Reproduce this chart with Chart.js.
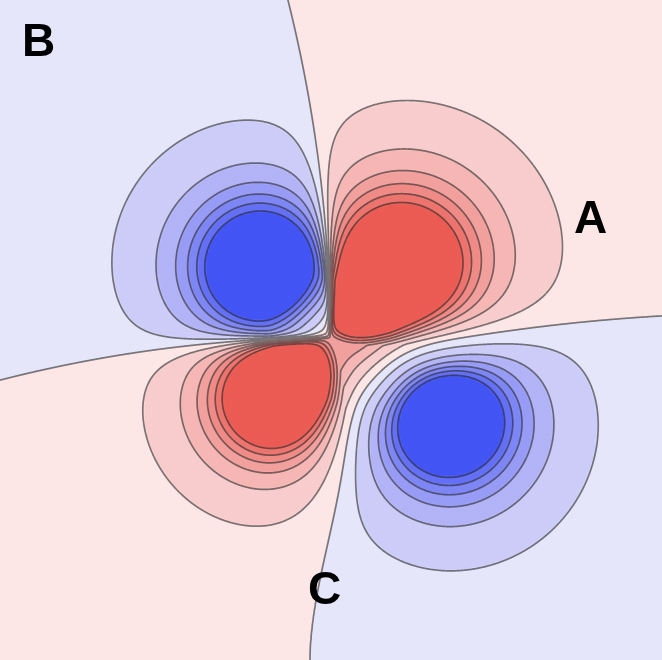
<!DOCTYPE html>
<html>
<head>
<meta charset="utf-8">
<script src="https://cdn.jsdelivr.net/npm/chart.js@4.4.1/dist/chart.umd.min.js"></script>
<style>
  html, body { margin: 0; padding: 0; background: #fff; }
  #wrap { position: relative; width: 662px; height: 660px; overflow: hidden; }
  #orbital { display: block; }
  .tag { position: absolute; font: bold 46px "Liberation Sans", Arial, sans-serif; line-height: 46px; color: #000; }
</style>
</head>
<body>
<div id="wrap">
  <canvas id="orbital" width="662" height="660"></canvas>
  <div class="tag" style="left:574px; top:194px;">A</div>
  <div class="tag" style="left:22px; top:17px;">B</div>
  <div class="tag" style="left:308px; top:565px;">C</div>
</div>
<script>
// contour levels (blue < 0 < red)
const levels = [-8.2, -7.2, -6.2, -5.1, -3.7, -1.8, 0, 1.8, 3.7, 5.1, 6.2, 7.2, 8.2];
// fill colour of each band, most negative first
const bandColors = [
  [68, 85, 245], [100, 112, 245], [126, 134, 245], [152, 156, 246], [179, 180, 247], [205, 205, 248], [230, 230, 250],
  [252, 230, 230], [248, 205, 205], [245, 182, 181], [242, 160, 157], [240, 139, 134], [237, 116, 110], [235, 92, 85]
];

// four lobes: upper left, upper right, lower left, lower right
const lobeX = [262, 400, 275, 447];
const lobeY = [268, 267, 397, 419];
const lobeAmp = [20.9, 21.6, 22.5, 22.5];
const lobeDecay = [62, 68, 54, 61];
// how sharply each lobe is cut at the vertical (u) and horizontal (v) node lines
const lobeWu = [3, 3, 18, 22];
const lobeGu = [0.12, 0.12, 0.15, 0.05];
const lobeWv = [4, 14, 4, 30];
const lobeGv = [0.12, 0.1, 0.12, 0];

// node lines crossing near the middle
const nodeCenter = [330, 338];
const nodeUp = -0.000368;                          // upper line: x shift per v^2
const nodeDown = [0.41547, -0.0031136, 5.064e-6];  // lower line: x shift polynomial
const nodeLeft = 0.000386;                         // left line: y shift per u^2
const nodeRight = [0.56, 90, -30, 150];            // right line: bump and drift

// positive link across the middle
const linkCenter = [346, 350];
const linkAmp = 6;
const linkWidth = 38;

const W = 662, H = 660;

function soft(t, w) { return t / Math.sqrt(t * t + w * w); }

function field(x, y) {
  const u0 = x - nodeCenter[0], v0 = y - nodeCenter[1];
  const sx = v0 < 0 ? nodeUp * v0 * v0
                    : nodeDown[0] * v0 + nodeDown[1] * v0 * v0 + nodeDown[2] * v0 * v0 * v0;
  const sy = u0 < 0 ? nodeLeft * u0 * u0
                    : nodeRight[0] * u0 * Math.exp(-u0 / nodeRight[1]) + nodeRight[2] * (1 - Math.exp(-u0 / nodeRight[3]));
  const u = u0 - sx, v = v0 - sy;
  const q = (u < 0 ? 0 : 1) + (v < 0 ? 0 : 2);
  const wu = lobeWu[q] + lobeGu[q] * Math.max(0, Math.abs(v) - 60);
  const wv = lobeWv[q] + lobeGv[q] * Math.max(0, Math.abs(u) - 60);
  const blob = lobeAmp[q] * Math.exp(-Math.hypot(x - lobeX[q], y - lobeY[q]) / lobeDecay[q]);
  let f = -soft(u, wu) * soft(v, wv) * blob;
  const dl = Math.hypot(x - linkCenter[0], y - linkCenter[1]) / linkWidth;
  f += linkAmp * Math.exp(-0.5 * dl * dl);
  return f;
}

function band(f) {
  let k = 0;
  while (k < levels.length && f > levels[k]) k++;
  return k;
}

// filled bands: 2px cells, 4 samples each for soft edges
const cellGroups = new Map();
const cell = 2;
for (let y = 0; y < H; y += cell) {
  for (let x = 0; x < W; x += cell) {
    let r = 0, g = 0, b = 0;
    for (const [ox, oy] of [[0.5, 0.5], [1.5, 0.5], [0.5, 1.5], [1.5, 1.5]]) {
      const c = bandColors[band(field(x + ox, y + oy))];
      r += c[0]; g += c[1]; b += c[2];
    }
    const key = `rgb(${Math.round(r / 4)},${Math.round(g / 4)},${Math.round(b / 4)})`;
    if (!cellGroups.has(key)) cellGroups.set(key, []);
    cellGroups.get(key).push({ x: x + cell / 2, y: y + cell / 2 });
  }
}

// contour lines by marching squares on a 1px grid
const nx = W + 1, ny = H + 1;
const grid = new Float64Array(nx * ny);
for (let j = 0; j < ny; j++) for (let i = 0; i < nx; i++) grid[j * nx + i] = field(i, j);

const linePoints = [];
for (const L of levels) {
  for (let j = 0; j < ny - 1; j++) {
    for (let i = 0; i < nx - 1; i++) {
      const a = grid[j * nx + i], b = grid[j * nx + i + 1];
      const c = grid[(j + 1) * nx + i + 1], d = grid[(j + 1) * nx + i];
      const ia = a > L, ib = b > L, ic = c > L, id = d > L;
      if (ia === ib && ib === ic && ic === id) continue;
      const e = [null, null, null, null];
      if (ia !== ib) e[0] = { x: i + (L - a) / (b - a), y: j };
      if (ib !== ic) e[1] = { x: i + 1, y: j + (L - b) / (c - b) };
      if (id !== ic) e[2] = { x: i + (L - d) / (c - d), y: j + 1 };
      if (ia !== id) e[3] = { x: i, y: j + (L - a) / (d - a) };
      const hit = [0, 1, 2, 3].filter(k => e[k]);
      let pairs;
      if (hit.length === 2) pairs = [[hit[0], hit[1]]];
      else {
        const mid = (a + b + c + d) / 4 > L;
        pairs = mid === ia ? [[0, 1], [2, 3]] : [[0, 3], [1, 2]];
      }
      for (const [p, q] of pairs) {
        linePoints.push(e[p], e[q], { x: null, y: null });
      }
    }
  }
}

const datasets = [{
  label: 'contours',
  data: linePoints,
  showLine: true,
  spanGaps: false,
  tension: 0.0001,
  pointRadius: 0,
  borderColor: 'rgba(35, 35, 35, 0.58)',
  borderWidth: 1.7,
  borderCapStyle: 'round',
  borderJoinStyle: 'round'
}];
for (const [color, pts] of cellGroups) {
  datasets.push({
    data: pts,
    parsing: false,
    pointStyle: 'rect',
    pointRadius: 2,
    borderWidth: 0,
    backgroundColor: color
  });
}

new Chart(document.getElementById('orbital'), {
  type: 'scatter',
  data: { datasets: datasets },
  options: {
    responsive: false,
    animation: false,
    events: [],
    layout: { autoPadding: false, padding: 0 },
    plugins: { legend: { display: false }, tooltip: { enabled: false } },
    scales: {
      x: { type: 'linear', min: 0, max: W, display: false },
      y: { type: 'linear', min: 0, max: H, reverse: true, display: false }
    }
  }
});
</script>
</body>
</html>
